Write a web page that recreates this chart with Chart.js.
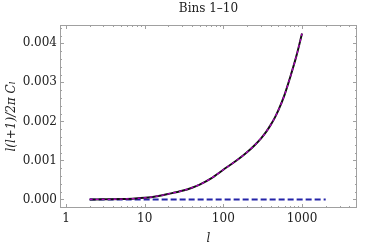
<!DOCTYPE html>
<html>
<head>
<meta charset="utf-8">
<script src="https://cdn.jsdelivr.net/npm/chart.js@4.4.1/dist/chart.umd.min.js"></script>
<style>
  html, body { margin: 0; padding: 0; background: #fff; }
  #wrap { width: 379px; height: 251px; }
</style>
</head>
<body>
<div id="wrap"><canvas id="chart" width="379" height="251"></canvas></div>
<script>
// multipole values and the binned spectrum
const ells = [2, 3, 5, 7, 10, 15, 20, 30, 40, 50, 70, 100, 150, 200, 250, 300, 350, 400, 450, 500, 600, 700, 850, 1000]
const spectrum = [0.0, 0.000002, 0.000008, 0.00002, 0.00004, 0.00009, 0.00014, 0.00022, 0.0003, 0.00038,
    0.00054, 0.00076, 0.00101, 0.00121, 0.00139, 0.00156, 0.00173, 0.00191, 0.00209, 0.00228,
    0.00268, 0.0031, 0.00368, 0.00425]

// flat reference line
const flatEll = [2, 2000]
const flatVal = [0, 0]

const xTicks = [1, 10, 100, 1000]
const yTicks = [0, 0.001, 0.002, 0.003, 0.004]

const FONT = 'DejaVu Serif'

function pts(xs, ys) {
    return xs.map((x, i) => ({ x: x, y: ys[i] }))
}

// frame with inward ticks, title and axis labels
const framePlugin = {
    id: 'frame',
    afterDraw(chart) {
        const { ctx, chartArea: a, scales } = chart
        const xs = scales.x, ys = scales.y
        ctx.save()
        ctx.strokeStyle = '#a0a0a0'
        ctx.lineWidth = 1
        ctx.strokeRect(a.left + 0.5, a.top + 0.5, a.right - a.left - 1, a.bottom - a.top - 1)

        function xTick(v, len) {
            const p = Math.round(xs.getPixelForValue(v)) + 0.5
            if (p < a.left || p > a.right) return
            ctx.beginPath()
            ctx.moveTo(p, a.bottom); ctx.lineTo(p, a.bottom - len)
            ctx.moveTo(p, a.top); ctx.lineTo(p, a.top + len)
            ctx.stroke()
        }
        function yTick(v, len) {
            const p = Math.round(ys.getPixelForValue(v)) + 0.5
            if (p < a.top || p > a.bottom) return
            ctx.beginPath()
            ctx.moveTo(a.left, p); ctx.lineTo(a.left + len, p)
            ctx.moveTo(a.right, p); ctx.lineTo(a.right - len, p)
            ctx.stroke()
        }
        xTicks.forEach(v => xTick(v, 4))
        for (let d = 1; d <= 1000; d *= 10) {
            for (let k = 2; k <= 9; k++) xTick(k * d, 2)
        }
        yTicks.forEach(v => yTick(v, 4))
        for (let i = -1; i <= 22; i++) {
            if (i % 5 !== 0) yTick(i * 0.0002, 2)
        }

        ctx.fillStyle = '#222'
        ctx.textAlign = 'center'
        ctx.textBaseline = 'middle'
        ctx.font = '12px "' + FONT + '"'
        ctx.fillText('Bins 1\u201310', (a.left + a.right) / 2, 9)

        ctx.font = 'italic 12px "' + FONT + '"'
        ctx.fillText('l', (a.left + a.right) / 2, 239)

        ctx.translate(12, (a.top + a.bottom) / 2)
        ctx.rotate(-Math.PI / 2)
        ctx.fillText('l(l+1)/2\u03c0 C\u2097', 0, 0)
        ctx.restore()
    }
}

new Chart(document.getElementById('chart'), {
    type: 'line',
    data: {
        datasets: [
            {
                data: pts(ells, spectrum),
                borderColor: '#b000c0',
                borderWidth: 1.3,
                borderDash: [3, 3],
                pointRadius: 0,
                cubicInterpolationMode: 'monotone',
                fill: false
            },
            {
                data: pts(ells, spectrum),
                borderColor: '#111',
                borderWidth: 2,
                pointRadius: 0,
                cubicInterpolationMode: 'monotone',
                fill: false
            },
            {
                data: pts(flatEll, flatVal),
                borderColor: '#2424a8',
                borderWidth: 2,
                borderDash: [6, 3],
                pointRadius: 0,
                fill: false
            }
        ]
    },
    options: {
        responsive: false,
        animation: false,
        layout: { padding: { left: 0, right: 22, top: 25, bottom: 0 } },
        plugins: {
            legend: { display: false },
            tooltip: { enabled: false }
        },
        scales: {
            x: {
                type: 'logarithmic',
                min: 0.84,
                max: 5000,
                afterBuildTicks: s => { s.ticks = xTicks.map(v => ({ value: v })) },
                afterFit: s => { s.height = 43 },
                grid: { display: false, drawTicks: false },
                border: { display: false },
                ticks: {
                    autoSkip: false,
                    maxRotation: 0,
                    padding: 4,
                    color: '#222',
                    font: { family: FONT, size: 12 },
                    callback: v => String(v)
                }
            },
            y: {
                type: 'linear',
                min: -0.00022,
                max: 0.00447,
                afterBuildTicks: s => { s.ticks = yTicks.map(v => ({ value: v })) },
                afterFit: s => { s.width = 60 },
                grid: { display: false, drawTicks: false },
                border: { display: false },
                ticks: {
                    padding: 3,
                    color: '#222',
                    font: { family: FONT, size: 12 },
                    callback: v => v.toFixed(3)
                }
            }
        }
    },
    plugins: [framePlugin]
})
</script>
</body>
</html>
